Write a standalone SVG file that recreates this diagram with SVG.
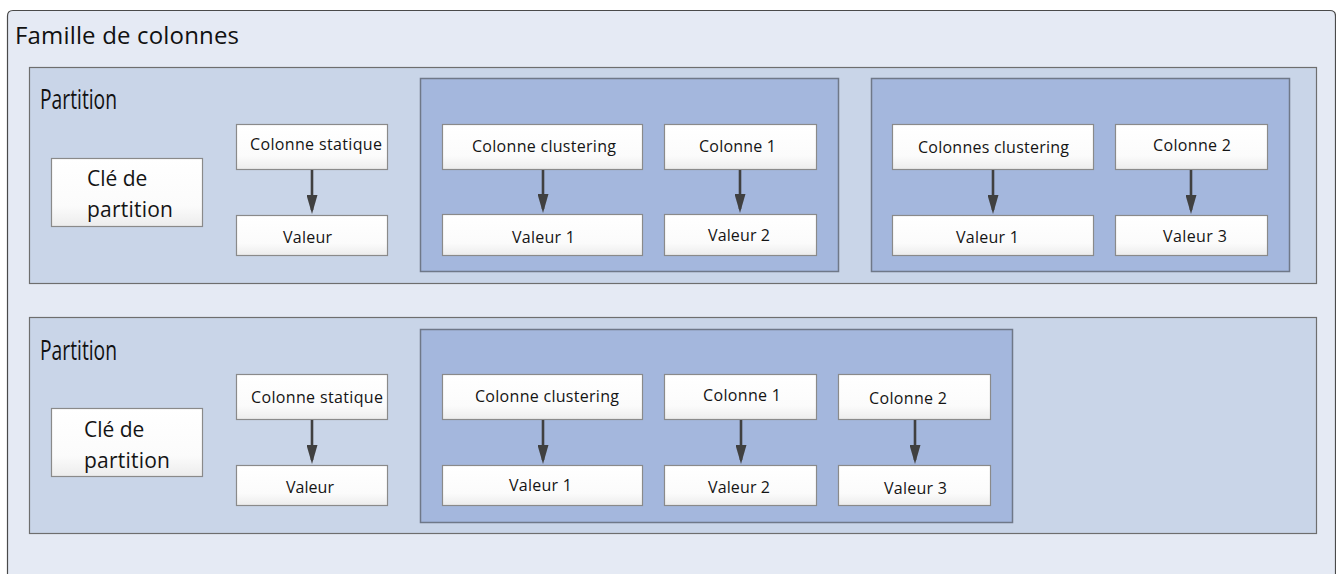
<svg xmlns="http://www.w3.org/2000/svg" width="1336" height="574" viewBox="0 0 1336 574">
  <style>
    .family { fill: #e5eaf4; stroke: #4a4a4a; stroke-width: 1.2; }
    .partition { fill: #c9d5e8; stroke: #6e6e6e; stroke-width: 1.2; }
    .cluster { fill: #a4b7dd; stroke: #6f7888; stroke-width: 1.5; }
    .node rect { fill: url(#nodeFill); stroke: #8a8a8a; stroke-width: 1.2; }
    .node text { font-family: "Open Sans", "Noto Sans", "Liberation Sans", sans-serif; font-size: 16px; fill: #141414; }
    .node text.key { font-size: 21px; }
    .title { font-family: "Open Sans", "Noto Sans", "Liberation Sans", sans-serif; font-size: 24px; fill: #111; }
    .ptitle { font-family: "Open Sans", "Noto Sans", "Liberation Sans", sans-serif; font-size: 27px; font-weight: 500; fill: #111; }
    .edge { stroke: #404040; stroke-width: 2.6; fill: none; marker-end: url(#head); }
  </style>
  <defs>
    <linearGradient id="nodeFill" x1="0" y1="0" x2="0" y2="1">
      <stop offset="0" stop-color="#ffffff"/>
      <stop offset="0.7" stop-color="#fbfbfb"/>
      <stop offset="1" stop-color="#ececec"/>
    </linearGradient>
    <marker id="head" markerWidth="19" markerHeight="11" refX="15" refY="5.5" orient="auto" markerUnits="userSpaceOnUse" viewBox="0 0 19 11">
      <path d="M0,0 L19,5.5 L0,11 Z" fill="#404040"/>
    </marker>
  </defs>

  <!-- column family frame -->
  <g id="famille">
    <path class="family" d="M7.5,574 L7.5,16 Q7.5,10.5 13,10.5 L1330,10.5 Q1335.5,10.5 1335.5,16 L1335.5,574"/>
    <text class="title" x="15" y="44" textLength="224">Famille de colonnes</text>
  </g>

  <!-- first partition -->
  <g id="partition1">
    <rect class="partition" x="29.5" y="67.5" width="1287" height="216"/>
    <text class="ptitle" x="40" y="109" textLength="77" lengthAdjust="spacingAndGlyphs">Partition</text>
    <rect class="cluster" x="420.5" y="78.5" width="418" height="193"/>
    <rect class="cluster" x="871.5" y="78.5" width="418" height="193"/>
  </g>

  <g id="p1-cle" class="node">
    <rect x="51.5" y="158.5" width="151" height="68"/>
    <text class="key" x="87" y="186">Clé de</text>
    <text class="key" x="87" y="217" textLength="86">partition</text>
  </g>
  <g id="p1-statique" class="node">
    <rect x="236.5" y="124.5" width="151" height="45"/>
    <text x="250" y="150" textLength="132">Colonne statique</text>
  </g>
  <g id="p1-valeur" class="node">
    <rect x="236.5" y="215.5" width="151" height="40"/>
    <text x="283" y="243" textLength="49">Valeur</text>
  </g>
  <g id="p1-clustering" class="node">
    <rect x="442.5" y="124.5" width="200" height="45"/>
    <text x="472" y="152" textLength="144">Colonne clustering</text>
  </g>
  <g id="p1-colonne1" class="node">
    <rect x="664.5" y="124.5" width="152" height="45"/>
    <text x="699" y="152" textLength="77">Colonne 1</text>
  </g>
  <g id="p1-valeur1" class="node">
    <rect x="442.5" y="214.5" width="200" height="41"/>
    <text x="512" y="243" textLength="63">Valeur 1</text>
  </g>
  <g id="p1-valeur2" class="node">
    <rect x="664.5" y="214.5" width="152" height="41"/>
    <text x="708" y="241" textLength="62">Valeur 2</text>
  </g>
  <g id="p1-clusterings" class="node">
    <rect x="892.5" y="124.5" width="201" height="45"/>
    <text x="918" y="153" textLength="151">Colonnes clustering</text>
  </g>
  <g id="p1-colonne2" class="node">
    <rect x="1115.5" y="124.5" width="152" height="45"/>
    <text x="1153" y="151" textLength="78">Colonne 2</text>
  </g>
  <g id="p1-valeur1b" class="node">
    <rect x="892.5" y="215.5" width="201" height="40"/>
    <text x="956" y="243" textLength="63">Valeur 1</text>
  </g>
  <g id="p1-valeur3" class="node">
    <rect x="1115.5" y="215.5" width="152" height="40"/>
    <text x="1163" y="242" textLength="64">Valeur 3</text>
  </g>

  <!-- second partition -->
  <g id="partition2">
    <rect class="partition" x="29.5" y="317.5" width="1287" height="216"/>
    <text class="ptitle" x="40" y="360" textLength="77" lengthAdjust="spacingAndGlyphs">Partition</text>
    <rect class="cluster" x="420.5" y="329.5" width="592" height="193"/>
  </g>

  <g id="p2-cle" class="node">
    <rect x="51.5" y="408.5" width="151" height="68"/>
    <text class="key" x="84" y="437">Clé de</text>
    <text class="key" x="84" y="468" textLength="86">partition</text>
  </g>
  <g id="p2-statique" class="node">
    <rect x="236.5" y="374.5" width="151" height="45"/>
    <text x="251" y="403" textLength="132">Colonne statique</text>
  </g>
  <g id="p2-valeur" class="node">
    <rect x="236.5" y="465.5" width="151" height="40"/>
    <text x="286" y="493" textLength="48">Valeur</text>
  </g>
  <g id="p2-clustering" class="node">
    <rect x="442.5" y="374.5" width="200" height="45"/>
    <text x="475" y="402" textLength="144">Colonne clustering</text>
  </g>
  <g id="p2-colonne1" class="node">
    <rect x="664.5" y="374.5" width="152" height="45"/>
    <text x="703" y="401" textLength="78">Colonne 1</text>
  </g>
  <g id="p2-colonne2" class="node">
    <rect x="838.5" y="374.5" width="152" height="45"/>
    <text x="869" y="404" textLength="78">Colonne 2</text>
  </g>
  <g id="p2-valeur1" class="node">
    <rect x="442.5" y="465.5" width="200" height="40"/>
    <text x="509" y="491" textLength="63">Valeur 1</text>
  </g>
  <g id="p2-valeur2" class="node">
    <rect x="664.5" y="465.5" width="152" height="40"/>
    <text x="708" y="493" textLength="62">Valeur 2</text>
  </g>
  <g id="p2-valeur3" class="node">
    <rect x="838.5" y="465.5" width="152" height="40"/>
    <text x="884" y="494" textLength="63">Valeur 3</text>
  </g>

  <!-- column to value links -->
  <g id="connectors">
    <line class="edge" x1="312" y1="170" x2="312" y2="210"/>
    <line class="edge" x1="543" y1="170" x2="543" y2="209"/>
    <line class="edge" x1="740" y1="170" x2="740" y2="209"/>
    <line class="edge" x1="993" y1="170" x2="993" y2="210"/>
    <line class="edge" x1="1191" y1="170" x2="1191" y2="210"/>
    <line class="edge" x1="312" y1="420" x2="312" y2="460"/>
    <line class="edge" x1="543" y1="420" x2="543" y2="460"/>
    <line class="edge" x1="741" y1="420" x2="741" y2="460"/>
    <line class="edge" x1="915" y1="420" x2="915" y2="460"/>
  </g>
</svg>
